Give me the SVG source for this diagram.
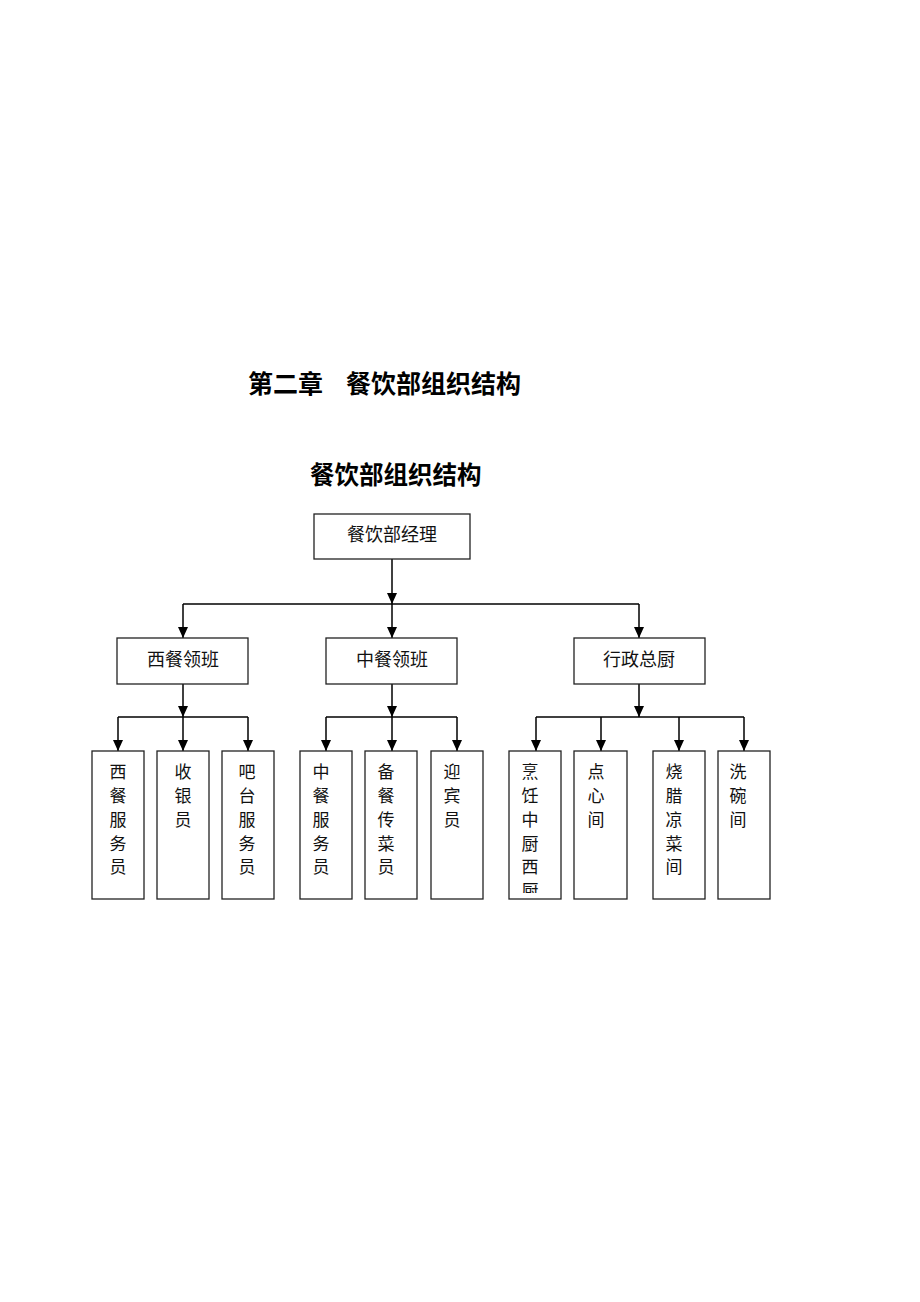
<svg xmlns="http://www.w3.org/2000/svg" width="920" height="1302" viewBox="0 0 920 1302">
<style>
.box{fill:#fff;stroke:#222;stroke-width:1.3}
.t{font-family:"Noto Sans CJK SC","Liberation Serif",serif;font-size:17px;fill:#111;text-anchor:middle;dominant-baseline:central}
.t2{font-size:18px}
.h{font-family:"Noto Sans CJK SC","Liberation Sans",sans-serif;font-weight:bold;font-size:25px;fill:#000;dominant-baseline:central}
.c{fill:none;stroke:#000;stroke-width:1.5}
</style>
<defs>
<marker id="ad" markerUnits="userSpaceOnUse" markerWidth="10" markerHeight="12" refX="5" refY="11" orient="0" viewBox="0 0 10 12">
<path d="M0 0 L10 0 L5 11 Z" fill="#000"/>
</marker>
<clipPath id="clipK"><rect x="509" y="751" width="52" height="142"/></clipPath>
</defs>

<g id="titles">
<text class="h" x="248" y="382">第二章</text>
<text class="h" x="346" y="382">餐饮部组织结构</text>
<text class="h" x="310" y="473" style="font-size:24.5px">餐饮部组织结构</text>
</g>

<g id="connectors">
<path class="c" d="M392 559V604" marker-end="url(#ad)"/>
<path class="c" d="M392 604V638" marker-end="url(#ad)"/>
<path class="c" d="M183 604H639"/>
<path class="c" d="M183 604V638" marker-end="url(#ad)"/>
<path class="c" d="M639 604V638" marker-end="url(#ad)"/>

<path class="c" d="M183 684V717" marker-end="url(#ad)"/>
<path class="c" d="M118 717H248"/>
<path class="c" d="M118 717V751" marker-end="url(#ad)"/>
<path class="c" d="M183 717V751" marker-end="url(#ad)"/>
<path class="c" d="M248 717V751" marker-end="url(#ad)"/>

<path class="c" d="M392 684V717" marker-end="url(#ad)"/>
<path class="c" d="M326 717H457"/>
<path class="c" d="M326 717V751" marker-end="url(#ad)"/>
<path class="c" d="M392 717V751" marker-end="url(#ad)"/>
<path class="c" d="M457 717V751" marker-end="url(#ad)"/>

<path class="c" d="M639 684V717" marker-end="url(#ad)"/>
<path class="c" d="M536 717H744"/>
<path class="c" d="M536 717V751" marker-end="url(#ad)"/>
<path class="c" d="M601 717V751" marker-end="url(#ad)"/>
<path class="c" d="M679 717V751" marker-end="url(#ad)"/>
<path class="c" d="M744 717V751" marker-end="url(#ad)"/>
</g>

<g id="n-manager">
<rect class="box" x="314" y="514" width="156" height="45"/>
<text class="t t2" x="392" y="533">餐饮部经理</text>
</g>

<g id="n-xican">
<rect class="box" x="117" y="638" width="131" height="46"/>
<text class="t t2" x="183" y="658">西餐领班</text>
</g>
<g id="n-zhongcan">
<rect class="box" x="326" y="638" width="131" height="46"/>
<text class="t t2" x="392" y="658">中餐领班</text>
</g>
<g id="n-chef">
<rect class="box" x="574" y="638" width="131" height="46"/>
<text class="t t2" x="639" y="658">行政总厨</text>
</g>

<g id="n-xcfwy">
<rect class="box" x="92" y="751" width="52" height="148"/>
<text class="t"><tspan x="118" y="770">西</tspan><tspan x="118" y="794">餐</tspan><tspan x="118" y="818">服</tspan><tspan x="118" y="842">务</tspan><tspan x="118" y="865">员</tspan></text>
</g>
<g id="n-syy">
<rect class="box" x="157" y="751" width="52" height="148"/>
<text class="t"><tspan x="183" y="770">收</tspan><tspan x="183" y="794">银</tspan><tspan x="183" y="818">员</tspan></text>
</g>
<g id="n-btfwy">
<rect class="box" x="222" y="751" width="52" height="148"/>
<text class="t"><tspan x="247" y="770">吧</tspan><tspan x="247" y="794">台</tspan><tspan x="247" y="818">服</tspan><tspan x="247" y="842">务</tspan><tspan x="247" y="865">员</tspan></text>
</g>
<g id="n-zcfwy">
<rect class="box" x="300" y="751" width="52" height="148"/>
<text class="t"><tspan x="321" y="770">中</tspan><tspan x="321" y="794">餐</tspan><tspan x="321" y="818">服</tspan><tspan x="321" y="842">务</tspan><tspan x="321" y="865">员</tspan></text>
</g>
<g id="n-bccy">
<rect class="box" x="365" y="751" width="52" height="148"/>
<text class="t"><tspan x="386" y="770">备</tspan><tspan x="386" y="794">餐</tspan><tspan x="386" y="818">传</tspan><tspan x="386" y="842">菜</tspan><tspan x="386" y="865">员</tspan></text>
</g>
<g id="n-yby">
<rect class="box" x="431" y="751" width="52" height="148"/>
<text class="t"><tspan x="452" y="770">迎</tspan><tspan x="452" y="794">宾</tspan><tspan x="452" y="818">员</tspan></text>
</g>
<g id="n-pr">
<rect class="box" x="509" y="751" width="52" height="148"/>
<text class="t" clip-path="url(#clipK)"><tspan x="530" y="770">烹</tspan><tspan x="530" y="794">饪</tspan><tspan x="530" y="818">中</tspan><tspan x="530" y="842">厨</tspan><tspan x="530" y="865">西</tspan><tspan x="530" y="889">厨</tspan></text>
</g>
<g id="n-dx">
<rect class="box" x="574" y="751" width="53" height="148"/>
<text class="t"><tspan x="596" y="770">点</tspan><tspan x="596" y="794">心</tspan><tspan x="596" y="818">间</tspan></text>
</g>
<g id="n-sl">
<rect class="box" x="653" y="751" width="52" height="148"/>
<text class="t"><tspan x="674" y="770">烧</tspan><tspan x="674" y="794">腊</tspan><tspan x="674" y="818">凉</tspan><tspan x="674" y="842">菜</tspan><tspan x="674" y="865">间</tspan></text>
</g>
<g id="n-xw">
<rect class="box" x="718" y="751" width="52" height="148"/>
<text class="t"><tspan x="738" y="770">洗</tspan><tspan x="738" y="794">碗</tspan><tspan x="738" y="818">间</tspan></text>
</g>
</svg>
